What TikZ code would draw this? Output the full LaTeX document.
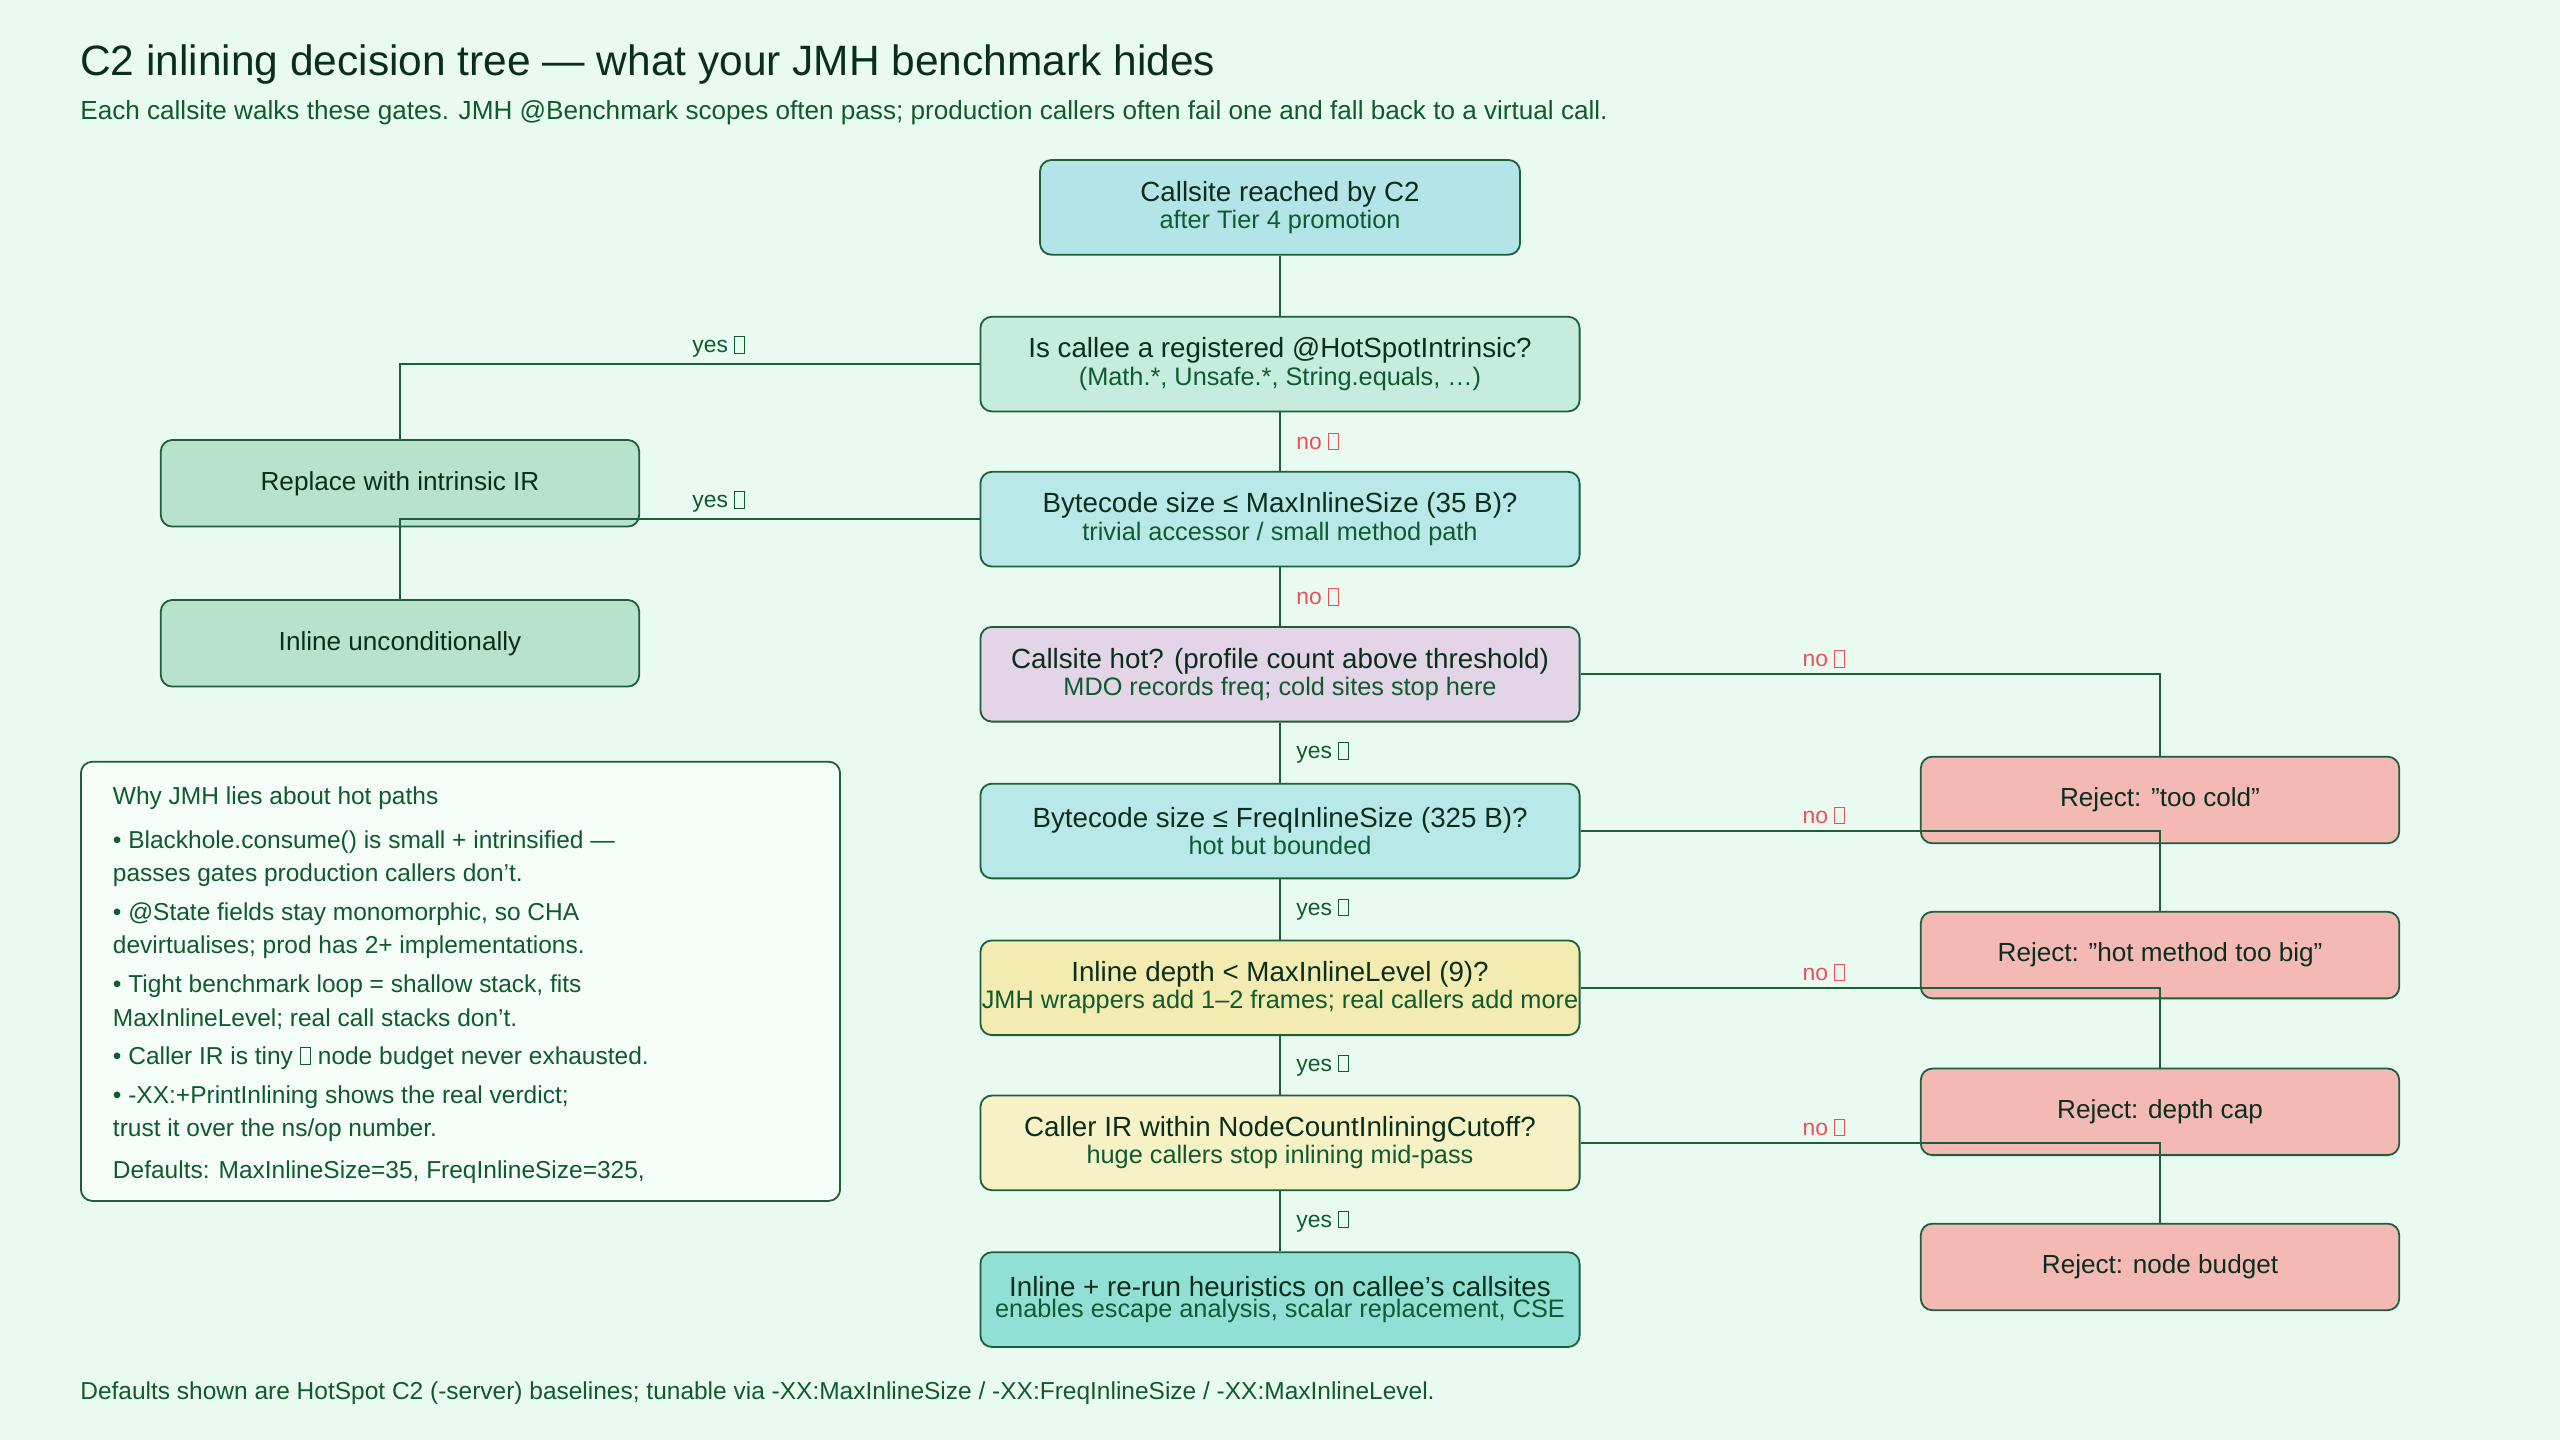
\documentclass[tikz,border=0pt]{standalone}
\usepackage{fontspec}
\setmainfont{Liberation Sans}
\usepackage{xcolor}
\usetikzlibrary{positioning}

\definecolor{bgmint}{HTML}{E9FAF1}
\definecolor{edgegreen}{HTML}{1E5E3A}
\definecolor{inkdark}{HTML}{0B2E1C}
\definecolor{inksub}{HTML}{0F5A30}
\definecolor{nored}{HTML}{E8505C}
\definecolor{cstart}{HTML}{B3E5E8}
\definecolor{cintr}{HTML}{C6ECE0}
\definecolor{csize}{HTML}{B8E8E8}
\definecolor{chot}{HTML}{E4D4E8}
\definecolor{cdepth}{HTML}{F3EBB0}
\definecolor{ccut}{HTML}{F7F2C6}
\definecolor{cinline}{HTML}{90E0D6}
\definecolor{cyes}{HTML}{B8E2CC}
\definecolor{crej}{HTML}{F4B9B4}
\definecolor{cnote}{HTML}{F4FDF8}

\newcommand{\tofu}{{\setlength{\fboxsep}{0pt}\setlength{\fboxrule}{0.6pt}\fbox{\phantom{\rule{0.38em}{0.68em}}}}}
\newcommand{\gate}[2]{{\fontsize{17}{20}\selectfont\color{inkdark}#1}\\[1pt]{\fontsize{15.5}{18}\selectfont\color{inksub}#2}}

\begin{document}
\begin{tikzpicture}[x=1pt,y=-1pt,
  box/.style={draw=edgegreen,line width=1.1pt,rounded corners=7pt,align=center,inner sep=0pt},
  gatebox/.style={box,minimum width=367pt,minimum height=58pt},
  endbox/.style={box,minimum width=293pt,minimum height=53pt,font=\fontsize{16}{19}\selectfont,text=inkdark},
  link/.style={draw=edgegreen,line width=1.4pt},
  yeslbl/.style={font=\fontsize{14}{16}\selectfont,text=inksub},
  nolbl/.style={font=\fontsize{14}{16}\selectfont,text=nored},
  notetxt/.style={anchor=west,font=\fontsize{15}{18}\selectfont,text=inksub,inner sep=0pt}]

% Background
\fill[bgmint] (0,0) rectangle (1568,882);
\useasboundingbox (0,0) rectangle (1568,882);

% Titles
\node[anchor=base west,inner sep=0pt,font=\fontsize{26}{30}\selectfont,text=inkdark] (title) at (49,46) {C2 inlining decision tree — what your JMH benchmark hides};
\node[anchor=base west,inner sep=0pt,font=\fontsize{16}{19}\selectfont,text=inksub] (subtitle) at (49,73) {Each callsite walks these gates. JMH @Benchmark scopes often pass; production callers often fail one and fall back to a virtual call.};

% Gates
\node[box,fill=cstart,minimum width=294pt,minimum height=58pt] (start) at (784,127) {\gate{Callsite reached by C2}{after Tier 4 promotion}};
\node[gatebox,fill=cintr] (intr) at (784,223) {\gate{Is callee a registered @HotSpotIntrinsic?}{(Math.*, Unsafe.*, String.equals, …)}};
\node[gatebox,fill=csize] (maxsize) at (784,318) {\gate{Bytecode size ≤ MaxInlineSize (35 B)?}{trivial accessor / small method path}};
\node[gatebox,fill=chot] (hot) at (784,413) {\gate{Callsite hot? (profile count above threshold)}{MDO records freq; cold sites stop here}};
\node[gatebox,fill=csize] (freq) at (784,509) {\gate{Bytecode size ≤ FreqInlineSize (325 B)?}{hot but bounded}};
\node[gatebox,fill=cdepth] (depth) at (784,605) {\gate{Inline depth < MaxInlineLevel (9)?}{JMH wrappers add 1–2 frames; real callers add more}};
\node[gatebox,fill=ccut] (cutoff) at (784,700) {\gate{Caller IR within NodeCountInliningCutoff?}{huge callers stop inlining mid-pass}};
\node[gatebox,fill=cinline] (inline) at (784,796) {\gate{Inline + re-run heuristics on callee's callsites}{enables escape analysis, scalar replacement, CSE}};

% Outcomes
\node[endbox,fill=cyes] (intrinsic) at (245,296) {Replace with intrinsic IR};
\node[endbox,fill=cyes] (always) at (245,394) {Inline unconditionally};
\node[endbox,fill=crej] (cold) at (1323,490) {Reject: "too cold"};
\node[endbox,fill=crej] (big) at (1323,585) {Reject: "hot method too big"};
\node[endbox,fill=crej] (deep) at (1323,681) {Reject: depth cap};
\node[endbox,fill=crej] (budget) at (1323,776) {Reject: node budget};

% Spine
\draw[link] (start) -- (intr);
\draw[link] (intr) -- node[nolbl,right=6pt] {no \tofu} (maxsize);
\draw[link] (maxsize) -- node[nolbl,right=6pt] {no \tofu} (hot);
\draw[link] (hot) -- node[yeslbl,right=6pt] {yes \tofu} (freq);
\draw[link] (freq) -- node[yeslbl,right=6pt] {yes \tofu} (depth);
\draw[link] (depth) -- node[yeslbl,right=6pt] {yes \tofu} (cutoff);
\draw[link] (cutoff) -- node[yeslbl,right=6pt] {yes \tofu} (inline);

% Yes branches
\draw[link] (intr.west) -- node[yeslbl,above,pos=0.45] {yes \tofu} (intr.west -| intrinsic) -- (intrinsic.north);
\draw[link] (maxsize.west) -- node[yeslbl,above,pos=0.45] {yes \tofu} (maxsize.west -| always) -- (always.north);

% No branches
\foreach \src/\dst in {hot/cold, freq/big, depth/deep, cutoff/budget}
  \draw[link] (\src.east) -- node[nolbl,above,pos=0.42] {no \tofu} (\src.east -| \dst) -- (\dst.north);

% Side note
\node[draw=edgegreen,line width=1.1pt,rounded corners=7pt,fill=cnote,minimum width=465pt,minimum height=269pt,anchor=north west] (note) at (49,466) {};
\node[notetxt] (n0) at (69,489) {Why JMH lies about hot paths};
\node[notetxt] (n1) at (69,516) {• Blackhole.consume() is small + intrinsified —};
\node[notetxt] (n2) at (69,536) {passes gates production callers don't.};
\node[notetxt] (n3) at (69,560) {• @State fields stay monomorphic, so CHA};
\node[notetxt] (n4) at (69,580) {devirtualises; prod has 2+ implementations.};
\node[notetxt] (n5) at (69,604) {• Tight benchmark loop = shallow stack, fits};
\node[notetxt] (n6) at (69,624) {MaxInlineLevel; real call stacks don't.};
\node[notetxt] (n7) at (69,648) {• Caller IR is tiny \tofu{} node budget never exhausted.};
\node[notetxt] (n8) at (69,672) {• -XX:+PrintInlining shows the real verdict;};
\node[notetxt] (n9) at (69,692) {trust it over the ns/op number.};
\node[notetxt] (n10) at (69,718) {Defaults: MaxInlineSize=35, FreqInlineSize=325,};

% Footer
\node[anchor=base west,inner sep=0pt,font=\fontsize{15}{18}\selectfont,text=inksub] (footer) at (49,857) {Defaults shown are HotSpot C2 (-server) baselines; tunable via -XX:MaxInlineSize / -XX:FreqInlineSize / -XX:MaxInlineLevel.};
\end{tikzpicture}
\end{document}
